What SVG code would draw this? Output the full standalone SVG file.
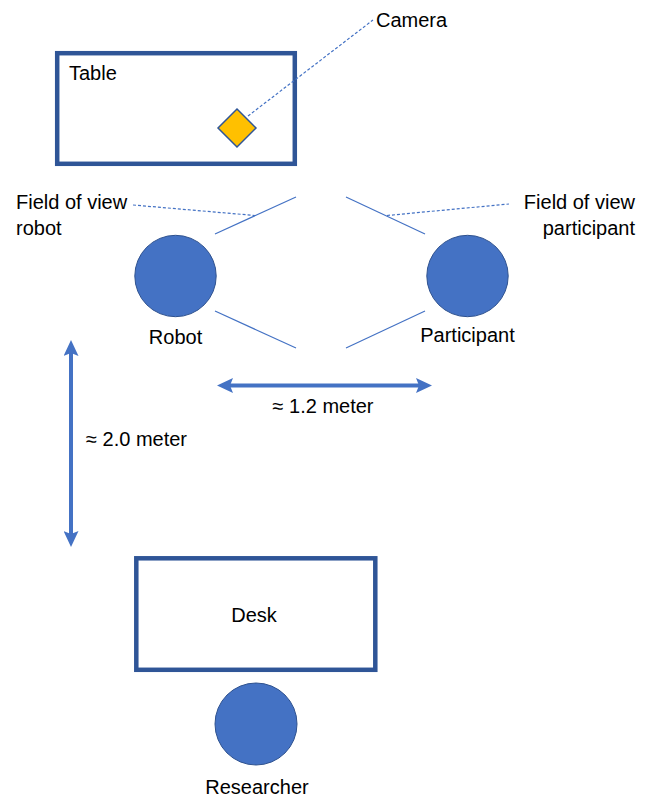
<svg xmlns="http://www.w3.org/2000/svg" width="650" height="797" viewBox="0 0 650 797">
<style>
  text { font-family: "Liberation Sans", Arial, sans-serif; font-size: 20px; fill: #000; }
  .box { fill: #fff; stroke: #2F5597; stroke-width: 4.5; }
  .person { fill: #4472C4; stroke: #2F528F; stroke-width: 1; }
  .fov { stroke: #4472C4; stroke-width: 1.2; fill: none; }
  .leader { stroke: #4472C4; stroke-width: 1.2; stroke-dasharray: 3 2; fill: none; }
  .dim { stroke: #4472C4; stroke-width: 4; fill: none; marker-start: url(#arrow); marker-end: url(#arrow); }
</style>
<defs>
  <marker id="arrow" viewBox="0 0 16 15" markerWidth="16" markerHeight="15" refX="3" refY="7.5" markerUnits="userSpaceOnUse" orient="auto-start-reverse">
    <path d="M0,0 L16,7.5 L0,15 L3,7.5 z" fill="#4472C4"/>
  </marker>
</defs>
<rect width="650" height="797" fill="#fff"/>

<g id="table">
  <rect class="box" x="57.2" y="53.2" width="237.6" height="110.6"/>
  <text x="69" y="80">Table</text>
</g>
<g id="camera">
  <polygon points="237,109 256,128 237,147 218,128" fill="#FFC000" stroke="#2F5597" stroke-width="1.5"/>
  <text x="376" y="26.5">Camera</text>
</g>
<g id="robot">
  <circle class="person" cx="175.5" cy="276" r="40.7"/>
  <text x="175.5" y="344" text-anchor="middle">Robot</text>
</g>
<g id="participant">
  <circle class="person" cx="467.5" cy="276" r="40.7"/>
  <text x="467.5" y="342" text-anchor="middle">Participant</text>
</g>
<g id="fov-robot-label">
  <text x="16" y="209">Field of view</text>
  <text x="16" y="235">robot</text>
</g>
<g id="fov-participant-label">
  <text x="635" y="209" text-anchor="end">Field of view</text>
  <text x="635" y="235" text-anchor="end">participant</text>
</g>
<g id="desk">
  <rect class="box" x="136.3" y="558.3" width="239" height="111.5"/>
  <text x="254" y="621.5" text-anchor="middle">Desk</text>
</g>
<g id="researcher">
  <circle class="person" cx="256" cy="724" r="41"/>
  <text x="257" y="794" text-anchor="middle">Researcher</text>
</g>
<g id="dimension-labels">
  <text x="323" y="413" text-anchor="middle">≈ 1.2 meter</text>
  <text x="86" y="446">≈ 2.0 meter</text>
</g>

<g id="connectors">
  <line class="fov" x1="215" y1="234" x2="296" y2="197"/>
  <line class="fov" x1="215" y1="311" x2="296" y2="348"/>
  <line class="fov" x1="346" y1="197" x2="425" y2="234"/>
  <line class="fov" x1="346" y1="348" x2="425" y2="311"/>
  <line class="leader" x1="248" y1="116" x2="373" y2="20"/>
  <line class="leader" x1="133" y1="205" x2="255" y2="215.5"/>
  <line class="leader" x1="387" y1="215.5" x2="509" y2="204"/>
  <line class="dim" x1="230" y1="385.5" x2="419" y2="385.5"/>
  <line class="dim" x1="71" y1="353" x2="71" y2="534"/>
</g>
</svg>
